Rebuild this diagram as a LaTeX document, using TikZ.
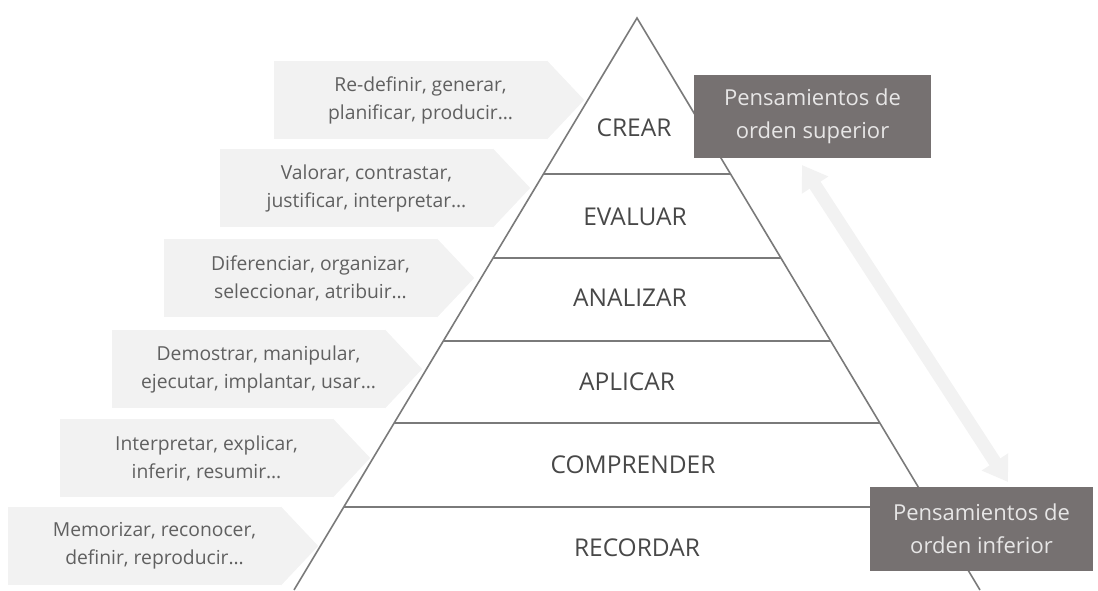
\documentclass[tikz,border=0pt]{standalone}
\usepackage{fontspec}
\setmainfont{Open Sans}
\usetikzlibrary{positioning,arrows.meta}
\definecolor{boxgray}{HTML}{F2F2F2}
\definecolor{darkbox}{HTML}{767171}
\definecolor{lightword}{HTML}{E7E6E6}
\definecolor{wordgray}{HTML}{606060}
\definecolor{levelgray}{HTML}{484848}
\definecolor{linegray}{HTML}{7A7A7A}

\begin{document}
\begin{tikzpicture}[x=1pt,y=-1pt,>={Triangle[width=30pt,length=24pt]}]
  \tikzstyle{verbbox}=[rectangle,fill=boxgray,minimum width=273pt,minimum height=78pt,inner sep=0pt]
  \tikzstyle{verbs}=[align=center,text=wordgray,font=\fontsize{19.3}{28}\selectfont]
  \tikzstyle{level}=[text=levelgray,font=\fontsize{24.5}{28}\selectfont]
  \tikzstyle{order}=[rectangle,fill=darkbox,text=lightword,align=center,inner sep=0pt,
                     font=\fontsize{22}{33}\selectfont]
  \tikzstyle{pyr}=[draw=linegray,line width=1.6pt]

  \useasboundingbox (0,0) rectangle (1098,590);

  % double arrow behind everything
  \coordinate (hi) at (802,165);
  \coordinate (lo) at (1008,482);
  \draw[<->,line width=13pt,boxgray] (hi) -- (lo);

  % verb boxes
  \node[verbbox] (b1) at (410.5,100) {};
  \node[verbbox] (b2) at (356.5,188) {};
  \node[verbbox] (b3) at (300.5,278) {};
  \node[verbbox] (b4) at (248.5,369) {};
  \node[verbbox] (b5) at (196.5,458) {};
  \node[verbbox] (b6) at (144.5,546) {};
  \fill[boxgray] (b1.north east) -- ([xshift=37pt]b1.east) -- (b1.south east) -- cycle;
  \fill[boxgray] (b2.north east) -- ([xshift=37pt]b2.east) -- (b2.south east) -- cycle;
  \fill[boxgray] (b3.north east) -- ([xshift=37pt]b3.east) -- (b3.south east) -- cycle;
  \fill[boxgray] (b4.north east) -- ([xshift=37pt]b4.east) -- (b4.south east) -- cycle;
  \fill[boxgray] (b5.north east) -- ([xshift=37pt]b5.east) -- (b5.south east) -- cycle;
  \fill[boxgray] (b6.north east) -- ([xshift=37pt]b6.east) -- (b6.south east) -- cycle;

  \node[verbs] (v1) at ([xshift=10pt]b1.center) {Re-definir, generar,\\planificar, producir…};
  \node[verbs] (v2) at ([xshift=10pt]b2.center) {Valorar, contrastar,\\justificar, interpretar…};
  \node[verbs] (v3) at ([xshift=10pt]b3.center) {Diferenciar, organizar,\\seleccionar, atribuir…};
  \node[verbs] (v4) at ([xshift=10pt]b4.center) {Demostrar, manipular,\\ejecutar, implantar, usar…};
  \node[verbs] (v5) at ([xshift=10pt]b5.center) {Interpretar, explicar,\\inferir, resumir…};
  \node[verbs] (v6) at ([xshift=10pt]b6.center) {Memorizar, reconocer,\\definir, reproducir…};

  % pyramid
  \coordinate (apex) at (637,18);
  \coordinate (bl) at (294,590);
  \coordinate (br) at (980,590);
  \draw[pyr,line join=miter] (bl) -- (apex) -- (br);
  \draw[pyr] (543.4,174) -- (730.6,174);
  \draw[pyr] (493,258) -- (781,258);
  \draw[pyr] (443.2,341) -- (830.8,341);
  \draw[pyr] (394,423) -- (880,423);
  \draw[pyr] (343.6,507) -- (930.4,507);

  \node[level] (crear)  at (634,128) {CREAR};
  \node[level] (eval)   at (635,217) {EVALUAR};
  \node[level] (anal)   at (630,298) {ANALIZAR};
  \node[level] (apli)   at (627,382) {APLICAR};
  \node[level] (comp)   at (633,465) {COMPRENDER};
  \node[level] (reco)   at (637,548) {RECORDAR};

  % order boxes
  \node[order,minimum width=237pt,minimum height=83pt] (sup) at (812.5,116.5)
       {Pensamientos de\\orden superior};
  \node[order,minimum width=223pt,minimum height=84pt] (inf) at (981.5,529)
       {Pensamientos de\\orden inferior};
\end{tikzpicture}
\end{document}
